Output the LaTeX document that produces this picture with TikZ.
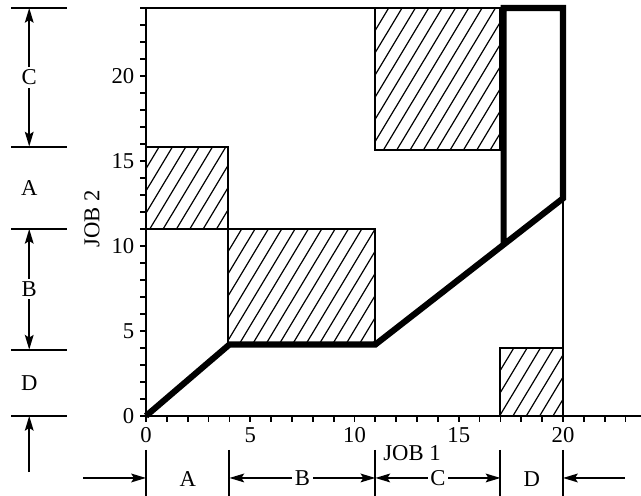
\documentclass[tikz,border=0pt]{standalone}
\usepackage{fontspec}
\setmainfont{Liberation Serif}
\usetikzlibrary{arrows.meta}
\newcommand{\myhatchrect}[4]{%
  \begin{scope}
    \clip (#1,#2) rectangle (#3,#4);
    \pgfmathsetmacro\hh{#4-#2}
    \foreach \k in {0,...,40} {
      \draw[hatchline] ({#1-0.49*\hh+\k*0.64},#2) -- ++({0.49*\hh},\hh);
    }
  \end{scope}
  \draw[rectborder] (#1,#2) rectangle (#3,#4);
}
\begin{document}
\begin{tikzpicture}[x=15.64pt,y=12.75pt,
  font=\fontsize{17}{20}\selectfont,
  hatchline/.style={line width=0.9pt},
  rectborder/.style={line width=1.5pt},
  axisline/.style={line width=1.5pt},
  frameline/.style={line width=1.1pt},
  tickline/.style={line width=1.3pt},
  thickpath/.style={line width=4.6pt, line join=miter},
  dimline/.style={line width=1.5pt},
  dimarrow/.style={line width=1.5pt, -{Stealth[length=11pt,width=6.5pt,inset=2pt]}},
  dimboth/.style={line width=1.5pt, {Stealth[length=11pt,width=6.5pt,inset=2pt]}-{Stealth[length=11pt,width=6.5pt,inset=2pt]}},
  lbl/.style={fill=white, inner sep=2pt},
]
\useasboundingbox (-7.002,-4.706) rectangle (23.741,24.47);

% hatched rectangles
\myhatchrect{0}{11}{3.95}{15.85}
\myhatchrect{3.95}{4.2}{11}{11}
\myhatchrect{11}{15.65}{17}{24}
\myhatchrect{17}{0}{20}{4}

% frame
\draw[frameline] (0,24) -- (20,24) -- (20,0);

% axes
\draw[axisline] (0,24) -- (0,0) -- (23.74,0);
\foreach \i in {0,...,23} \draw[tickline] (\i,0) -- (\i,-0.35);
\foreach \j in {0,...,24} \draw[tickline] (0,\j) -- (-0.29,\j);

\foreach \v in {0,5,10,15,20} {
  \node (xl\v) at (\v,-1.15) {\v};
  \node[anchor=east, inner sep=0pt] (yl\v) at (-0.55,\v) {\v};
}
\node (job1) at (12.76,-2.18) {JOB 1};
\node[rotate=90] (job2) at (-2.59,11.6) {JOB 2};

% thick path
\coordinate (p0) at (0,0);
\coordinate (p1) at (4,4.2);
\coordinate (p2) at (11,4.2);
\coordinate (p3) at (20,12.8);
\coordinate (p4) at (20,24);
\coordinate (p5) at (17.15,24);
\coordinate (p6) at (17.15,10.1);
\draw[thickpath] (p0) -- (p1) -- (p2) -- (p3) -- (p4) -- (p5) -- (p6);

% left dimensions (JOB 2)
\foreach \y/\n in {24/l1,15.85/l2,11/l3,3.9/l4,0/l5} {
  \coordinate (\n a) at (-6.47,\y);
  \coordinate (\n b) at (-3.79,\y);
  \draw[dimline] (\n a) -- (\n b);
}
\coordinate (lc1) at (-5.6,24);
\coordinate (lc2) at (-5.6,15.85);
\draw[dimboth] (lc1) -- (lc2) node[midway, lbl] (lC) {C};
\node (lA) at (-5.6,13.4) {A};
\coordinate (lb1) at (-5.6,11);
\coordinate (lb2) at (-5.6,3.9);
\draw[dimboth] (lb1) -- (lb2) node[midway, lbl] (lB) {B};
\node (lD) at (-5.6,1.95) {D};
\coordinate (ld0) at (-5.6,-3.3);
\coordinate (ld1) at (-5.6,0);
\draw[dimarrow] (ld0) -- (ld1);

% bottom dimensions (JOB 1)
\foreach \x/\n in {0/b1,4/b2,11/b3,17/b4,20/b5} {
  \coordinate (\n a) at (\x,-2.0);
  \coordinate (\n b) at (\x,-4.71);
  \draw[dimline] (\n a) -- (\n b);
}
\coordinate (ba0) at (-3.02,-3.65);
\coordinate (ba1) at (0,-3.65);
\draw[dimarrow] (ba0) -- (ba1);
\node (bA) at (2,-3.7) {A};
\coordinate (bb1) at (4,-3.65);
\coordinate (bb2) at (11,-3.65);
\draw[dimboth] (bb1) -- (bb2) node[midway, lbl] (bB) {B};
\coordinate (bc1) at (11,-3.65);
\coordinate (bc2) at (17,-3.65);
\draw[dimboth] (bc1) -- (bc2) node[midway, lbl] (bC) {C};
\node (bD) at (18.5,-3.7) {D};
\coordinate (be0) at (22.97,-3.65);
\coordinate (be1) at (20,-3.65);
\draw[dimarrow] (be0) -- (be1);
\end{tikzpicture}
\end{document}
